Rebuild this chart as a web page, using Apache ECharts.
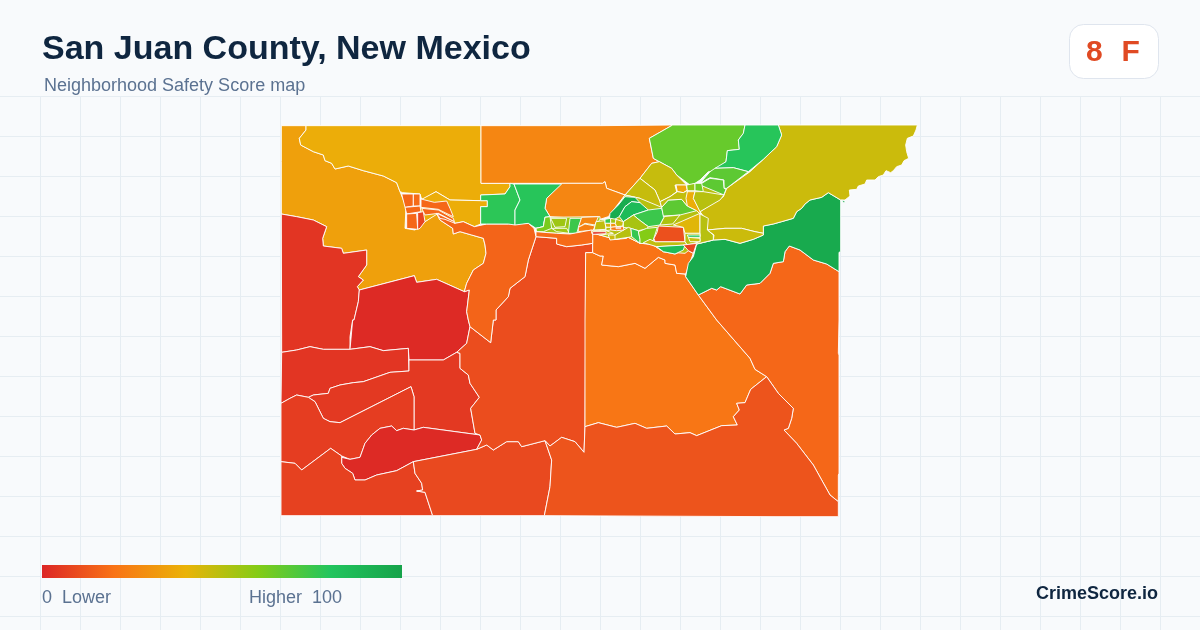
<!DOCTYPE html>
<html><head><meta charset="utf-8">
<style>html,body{margin:0;padding:0;background:#f8fafc}#c{width:1200px;height:630px}</style>
<script src="https://cdn.jsdelivr.net/npm/echarts@6/dist/echarts.min.js"></script>
</head><body><div id="c"></div>
<script>
// ---------- chart values ----------
const tractNames = ["west","north","northGold","topOrange","blob","redW","redD","stripW","cShape","lowerW","redLens","south1","south2","centre","corridor","bigOrange","orangeBand","eastOrange","south3","greenE","yellowNE","yellowBand","limeN","greenN","limeA","limeB","oliveA","oliveB","greenW1","greenW2","clusterBase","stripBase",
"cl1","cl2","cl3","cl4","cl5","cl6","cor1","cor2",
"st1","st2","st3","st4","st5","st6","st7","st8","st9",
"deep1","deep2","blobG","limeY","greenS","limeC","underRed","redC","limeU","limeM","goldM","oliveR","goldT","limeT","limeT2","oliveM","goldS","oliveT","rightBase","stripG","stripY","bandG","redT","oliveL","dot",
"c1","c2","c3","c4","c5","c6","c7","c8","c9","c10","c11"];
const tractScores = [34,38,38,26,26,4,1,4,5,6,1,7,9,10,16,21,20,17,12,96,46,46,66,79,68,68,47,47,78,79,50,55,
17,18,17,17,8,17,17,16,
62,55,55,75,26,24,52,18,46,
95,86,75,53,76,60,48,11,68,52,42,50,36,57,64,48,38,50,50,80,47,85,8,50,96,
48,75,55,45,30,47,22,50,5,46,3];
const scaleColors = ["#dc2626","#f97316","#eab308","#84cc16","#22c55e","#16a34a"];
const legendLow = "0  Lower";
const legendHigh = "Higher  100";

// ---------- map geometry: outline points of each tract, in map units ----------
const A=[280,120],B=[600,120],C=[280,320],D=[580,320],E=[590,170],F=[395,180];
const outlines = {
west:[[A,[4,125,4,17,78,17,78,30,58,55,62,75,100,95,130,105,135,122,155,130,165,147,205,138,250,152,310,168,350,188,360,215,378,260,375,325,405,330,435,305,470,280,480,300,518,325,520,342,540,335,575,345,610,355,615,375,618,400,610,430,580,450,570,470,560,490,553,515,470,478,410,487,403,467,238,510,232,500,250,480,235,470,260,435,260,390,190,400,185,385,130,378,128,355,140,320,100,300,50,290,4,282]]],
north:[[A,[78,17,603,17,603,190,690,190,690,200,675,222,602,225,602,242,510,240,468,215,435,235,425,238,420,222,368,218,360,215,350,188,310,168,250,152,205,138,165,147,155,130,135,122,130,105,100,95,62,75,58,55,78,30]]],
northGold:[[A,[425,238,468,215,510,240,602,242,622,242,622,260,602,260,602,312,583,320,550,305,525,310,500,292,475,280,435,305,420,270]]],
topOrange:[[A,[603,17,960,17]],[B,[218,15,148,55,160,115,178,125,155,130,120,175,75,225,20,205,15,185,8,190,0,190]],[A,[603,190]]],
blob:[[A,[845,190,960,190]],[B,[8,190,15,185,20,205,75,225,25,290,0,298]],[A,[890,295,810,290,795,265,800,235]]],
redW:[[A,[4,282,50,290,100,300,140,320,128,355,130,378,185,385,190,400,260,390,260,435,235,470,250,480,232,500,238,510,235,545,222,600]],[C,[218,0,210,50,210,88,130,88,90,80,50,90,5,97]]],
redD:[[A,[238,510,403,467,410,487,470,478,553,515,568,510,560,575,565,600]],[C,[570,20,560,70,530,97,490,120,387,120,385,85,310,92,270,80,210,88,218,0]],[A,[222,600,235,545]]],
stripW:[[C,[5,97,50,90,90,80,130,88,210,88,270,80,310,92,385,85,387,153,330,157,250,185,220,188,180,195,150,205,145,220,100,225,85,232,50,225,30,235,3,250]]],
cShape:[[C,[387,120,490,120,530,97,540,100,540,145,565,165,570,190,598,232,572,265,585,340,600,345,430,322,402,330,402,230,393,200,180,308,150,305,130,295,105,245,85,232,100,225,145,220,150,205,180,195,220,188,250,185,330,157,387,153]]],
lowerW:[[C,[3,250,30,235,50,225,85,232,105,245,130,295,150,305,180,308,393,200,402,230,402,330,370,325,350,332,335,318,300,325,275,345,255,370,240,412,210,418,185,408,152,385,65,450,45,430,3,425]]],
redLens:[[C,[185,412,210,418,240,412,255,370,275,345,300,325,335,318,350,332,370,325,402,330,430,322,600,345,605,360,590,388,400,425,350,452,290,465,255,480,225,480,218,460,195,445,185,430]]],
south1:[[C,[3,425,45,430,65,450,152,385,185,408,185,430,195,445,218,460,225,480,255,480,290,465,350,452,400,425,405,460,425,490,428,510,410,513,435,517,458,587,3,587]]],
south2:[[C,[400,425,590,388,620,375,640,390,680,365,715,365,725,380,795,362,815,420,810,500,793,587,458,587,435,517,410,513,428,510,425,490,405,460]]],
centre:[[A,[648,600,648,570,685,530,690,505,735,470,745,420,768,350,830,355,830,372,860,380,905,375,938,370,938,398,917,398,917,600]],[C,[915,0,915,320,912,397,885,365,845,352,810,378,795,362,725,380,715,365,680,365,640,390,620,375,590,388,605,360,600,345,585,340,572,265,598,232,570,190,565,165,540,145,540,100,530,97,560,70,570,20,632,68,640,0]]],
corridor:[[A,[620,312,685,312,745,310,762,325,768,350,745,420,735,470,690,505,685,530,648,570,648,600]],[C,[640,0,632,68,570,20,565,0]],[A,[565,600,560,575,568,510,553,515,560,490,570,470,580,450,610,430,618,400,615,375,610,355,575,345,540,335,520,342,518,325,480,300,470,280,500,292,525,310,550,305,583,320]]],
bigOrange:[[A,[917,398,938,398]],[B,[0,408,10,408,5,435,55,440,105,430,135,445,175,412,195,420,195,430,225,435,230,460,255,462,257,470,295,525,350,600]],[D,[410,0,510,115,525,148,560,170,512,208,495,248,470,250,478,270,460,290,472,315,425,317,350,347,330,338,285,342,260,318,200,325,165,310,110,322,55,308,15,320,15,0]]],
orangeBand:[[B,[-22,337,0,345,45,358,85,352,120,370,155,372,190,395,225,402,250,390,265,392,280,400,257,462,230,460,225,435,195,430,195,420,175,412,135,445,105,430,55,440,5,435,10,408,0,408,-22,398]]],
eastOrange:[[B,[295,525,335,505,350,510,362,500,420,522,440,495,480,490,510,460,520,430,550,425,555,395,568,378,600,390,640,420,680,432,717,455,717,600]],[D,[775,0,775,100,777,105,777,460,775,465,775,545,750,525,700,435,650,370,612,330,625,325,635,295,640,265,595,220,560,170,525,148,510,115,410,0]]],
south3:[[C,[793,587,810,500,815,420,795,362,810,378,845,352,885,365,912,397,915,320]],[D,[55,308,110,322,165,310,200,325,260,318,285,342,330,338,350,347,425,317,472,315,460,290,478,270,470,250,495,248,512,208,560,170,595,220,640,265,635,295,625,325,612,330,650,370,700,435,750,525,775,545,775,590,585,590,585,587]]],
greenE:[[B,[257,470,265,430,280,410,290,372,340,360,375,358,420,370,460,358,490,345,490,318,520,312,545,305,580,295,590,275,605,265,615,252,630,240,665,232,685,218,722,240,722,395,717,397,717,455,680,432,640,420,600,390,568,378,555,395,550,425,520,430,510,460,480,490,440,495,420,522,362,500,350,510,335,505,295,525]]],
yellowNE:[[B,[535,15,952,15,948,30,940,48,922,55,917,75,920,95,926,115,912,122,905,135,890,140,880,152,872,158,858,152,850,165,835,170,825,180,800,180,795,192,775,198,770,208,748,210,750,228,735,240,722,240,685,218,665,232,630,240,615,252,605,265,590,275,580,295,545,305,520,312,490,318,490,340,465,335,425,325,375,325,322,330,315,295,300,275,370,230,380,205,450,155,490,118,530,80,545,45]]],
yellowBand:[[B,[322,330,375,325,425,325,465,335,490,340,490,345,460,358,420,370,375,358,340,360,342,345]]],
limeN:[[B,[218,15,435,15,430,40,415,60,418,88,382,92,378,125,340,155,325,155,300,180,285,190,270,195,230,165,215,145,178,125,160,115,148,55]]],
greenN:[[B,[435,15,535,15,545,45,530,80,490,118,445,155,400,143,345,145,378,125,382,92,418,88,415,60,430,40]]],
limeA:[[B,[345,145,400,143,445,155,380,205,372,205,372,180,330,173,300,190,330,155]]],
limeB:[[B,[302,192,330,175,370,180,372,205,378,208,370,228,310,215]]],
oliveA:[[B,[178,125,215,145,230,165,260,195,225,195,230,215,210,230,180,245,165,210,120,175,155,130]]],
oliveB:[[B,[120,175,165,210,180,245,185,265,150,262,120,235,75,225]]],
greenW1:[[A,[690,190,702,192,720,240,705,270,705,315,685,312,620,312,602,312,602,260,622,260,622,242,602,242,602,225,675,222,690,200]]],
greenW2:[[A,[702,192,845,192,800,235,795,265,810,290,795,292,790,320,768,325,745,310,705,315,705,270,720,240]]],
clusterBase:[[B,[-12,300,28,298,75,225,120,235,185,262,205,240,232,215,262,212,300,195,372,225,300,275,322,330,340,360,290,372,255,400,190,395,155,372,120,370,85,352,45,358,0,345,-22,337]]],
stripBase:[[A,[768,325,790,320,795,292,960,290,960,340,938,335,870,342,830,340,768,335]]],
cl1:[[F,[20,42,55,42,55,78,30,82]]],
cl2:[[F,[55,42,75,42,75,78,55,78]]],
cl3:[[F,[30,82,75,78,78,95,35,102]]],
cl4:[[F,[35,102,65,100,68,148,35,145]]],
cl5:[[F,[68,98,85,95,90,125,75,145,68,148]]],
cl6:[[F,[78,57,118,67,155,63,165,85,175,110,150,98,130,88,78,82]]],
cor1:[[F,[80,85,130,90,175,115,178,125,130,100,90,105]]],
cor2:[[F,[125,100,178,125,180,130,150,118,135,115]]],
st1:[[A,[768,325,790,320,795,292,810,290,815,325,790,335,770,335]]],
st2:[[A,[812,295,860,295,855,320,825,322]]],
st3:[[A,[815,325,860,325,868,340,830,335]]],
st4:[[A,[870,295,905,295,890,340,865,340]]],
st5:[[A,[905,292,955,290,945,315,915,310,895,322]]],
st6:[[A,[895,322,915,312,945,318,940,330,895,335]]],
st7:[[A,[945,320,960,298,985,300,990,325,945,328]]],
st8:[[A,[768,335,830,340,870,342,935,330,938,335,938,370,905,375,860,380,830,372,830,355,768,350]]],
st9:[[A,[985,345,1040,345,1040,355,990,360]]],
deep1:[[E,[105,80,135,82,150,98,125,95,105,110,88,140,70,150,58,148,60,130,85,105]]],
deep2:[[E,[125,95,150,98,175,120,130,135,100,155,88,140,105,110]]],
blobG:[[B,[100,285,145,270,185,265,192,292,180,315,145,320,118,300]]],
limeY:[[B,[70,305,100,285,118,300,145,320,140,327,115,332,92,325,70,322]]],
greenS:[[B,[92,325,115,332,115,335,120,358,120,370,95,350]]],
limeC:[[B,[115,335,140,325,172,322,160,360,155,372,120,370,120,358]]],
underRed:[[B,[150,358,165,365,255,365,262,375,170,380,130,368]]],
redC:[[B,[175,318,250,322,255,365,165,365,162,355,172,335]]],
limeU:[[B,[185,262,205,240,245,238,262,258,290,272,240,285,190,288]]],
limeM:[[B,[190,290,240,285,218,312,180,315,192,292]]],
goldM:[[B,[220,315,300,280,300,340,255,340,250,322]]],
oliveR:[[B,[300,282,325,295,322,330,340,345,340,360,290,372,300,345,300,340]]],
goldT:[[B,[228,195,258,195,262,210,250,218,232,215]]],
limeT:[[B,[260,195,285,190,285,212,262,212]]],
limeT2:[[B,[285,190,305,190,310,215,285,212]]],
oliveM:[[B,[180,245,210,230,232,215,250,218,262,212,265,225,262,258,245,238,205,240,185,262]]],
goldS:[[B,[262,215,285,215,280,235,300,272,300,282,290,272,262,258,258,235]]],
oliveT:[[B,[285,215,310,215,372,225,360,240,300,275,280,235]]],
rightBase:[[B,[255,340,300,340,300,365,262,375,255,365]]],
stripG:[[B,[262,345,300,345,300,352,265,352]]],
stripY:[[B,[265,352,300,355,300,365,270,365]]],
bandG:[[B,[170,380,255,375,250,390,225,402,190,395]]],
redT:[[B,[250,375,290,370,280,400,265,392]]],
oliveL:[[B,[45,345,85,322,92,325,95,350,85,352,45,358]]],
dot:[[B,[725,240,738,245,730,248]]],
c1:[[E,[18,155,45,152,48,178,12,180]]],
c2:[[E,[45,148,62,145,62,160,45,160]]],
c3:[[E,[62,145,78,148,76,160,62,160]]],
c4:[[E,[45,160,62,160,62,172,48,172]]],
c5:[[E,[62,160,76,160,80,170,62,172]]],
c6:[[E,[78,148,100,155,98,168,80,170,76,160]]],
c7:[[E,[62,172,80,170,100,170,102,180,80,182,62,180]]],
c8:[[E,[48,172,62,172,62,180,48,182]]],
c9:[[E,[78,172,92,172,92,176,78,176]]],
c10:[[E,[5,182,48,182,70,190,30,195,5,190]]],
c11:[[B,[-22,335,18,335,18,341,-22,343]]]
};

function ring(name){
  const pts=[];
  for(const [o,flat] of outlines[name]) for(let i=0;i<flat.length;i+=2) pts.push([o[0]+flat[i]/3,o[1]+flat[i+1]/3]);
  pts.push(pts[0].slice());
  return pts;
}
const features = tractNames.map(n=>({type:"Feature",properties:{name:n},geometry:{type:"Polygon",coordinates:[ring(n)]}}));
echarts.registerMap("sanJuan",{type:"FeatureCollection",features});
let x0=1e9,x1=-1e9,y0=1e9,y1=-1e9;
features.forEach(f=>f.geometry.coordinates[0].forEach(p=>{x0=Math.min(x0,p[0]);x1=Math.max(x1,p[0]);y0=Math.min(y0,p[1]);y1=Math.max(y1,p[1]);}));

// page decoration
const gridColor="#e6edf2", gfx=[];
gfx.push({type:"rect",silent:true,z:-10,shape:{x:0,y:0,width:1200,height:630},style:{fill:"#f8fafc"}});
for(let x=40.5;x<1200;x+=40) gfx.push({type:"line",silent:true,z:-9,shape:{x1:x,y1:97,x2:x,y2:630},style:{stroke:gridColor,lineWidth:1}});
for(let y=96.5;y<630;y+=40) gfx.push({type:"line",silent:true,z:-9,shape:{x1:0,y1:y,x2:1200,y2:y},style:{stroke:gridColor,lineWidth:1}});
const sans='"Liberation Sans",Arial,sans-serif';
const txt=(text,x,y,font,fill,align)=>({type:"text",silent:true,z:20,x,y,style:{text,font,fill,align:align||"left",verticalAlign:"middle"}});
gfx.push(txt("San Juan County, New Mexico",42,50,'bold 34px '+sans,"#0f2640"));
gfx.push(txt("Neighborhood Safety Score map",44,86,'18px '+sans,"#5b7291"));
gfx.push({type:"rect",silent:true,z:19,shape:{x:1069.5,y:24.5,width:89,height:54,r:14},style:{fill:"#fff",stroke:"#dfe5ee",lineWidth:1}});
gfx.push(txt("8",1086,53,'bold 30px '+sans,"#e04a23"));
gfx.push(txt("F",1121.5,53,'bold 30px '+sans,"#e04a23"));
gfx.push(txt(legendLow,42,598,'18px '+sans,"#5b7291"));
gfx.push(txt(legendHigh,249,598,'18px '+sans,"#5b7291"));
gfx.push(txt("CrimeScore.io",1158,594,'bold 18px '+sans,"#0f2640","right"));
gfx.push({type:"rect",silent:true,z:19,shape:{x:42,y:565,width:360,height:13},style:{fill:new echarts.graphic.LinearGradient(0,0,1,0,scaleColors.map((color,i)=>({offset:i/(scaleColors.length-1),color})))}});

const chart=echarts.init(document.getElementById("c"),null,{renderer:"canvas"});
chart.setOption({
  animation:false,
  graphic:{elements:gfx},
  visualMap:{type:"continuous",show:false,min:0,max:100,seriesIndex:0,inRange:{color:scaleColors}},
  series:[{type:"map",map:"sanJuan",projection:{project:p=>p,unproject:p=>p},left:x0,top:y0,width:x1-x0,height:y1-y0,roam:false,silent:true,selectedMode:false,
    label:{show:false},itemStyle:{borderColor:"#fff",borderWidth:0.9},emphasis:{disabled:true},
    data:tractNames.map((n,i)=>({name:n,value:tractScores[i]}))}]
});
</script></body></html>
